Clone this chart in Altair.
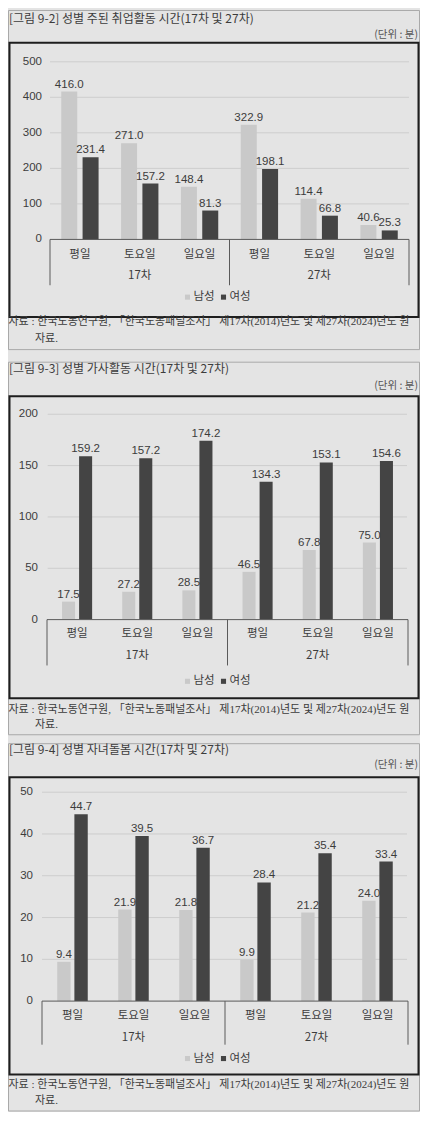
import altair as alt
import pandas as pd

# ---------------- data ----------------
waves = ["17차", "27차"]
days = ["평일", "토요일", "일요일"]
sexes = ["남성", "여성"]

work_male = [416.0, 271.0, 148.4, 322.9, 114.4, 40.6]
work_female = [231.4, 157.2, 81.3, 198.1, 66.8, 25.3]
house_male = [17.5, 27.2, 28.5, 46.5, 67.8, 75.0]
house_female = [159.2, 157.2, 174.2, 134.3, 153.1, 154.6]
care_male = [9.4, 21.9, 21.8, 9.9, 21.2, 24.0]
care_female = [44.7, 39.5, 36.7, 28.4, 35.4, 33.4]

titles = [
    "[그림 9-2] 성별 주된 취업활동 시간(17차 및 27차)",
    "[그림 9-3] 성별 가사활동 시간(17차 및 27차)",
    "[그림 9-4] 성별 자녀돌봄 시간(17차 및 27차)",
]
unit_label = "(단위 : 분)"
source_line1 = "자료 : 한국노동연구원, 「한국노동패널조사」 제17차(2014)년도 및 제27차(2024)년도 원"
source_line2 = "자료."
ticks_work = [0, 100, 200, 300, 400, 500]
ticks_house = [0, 50, 100, 150, 200]
ticks_care = [0, 10, 20, 30, 40, 50]

# ---------------- style ----------------
BG = "#e4e4e4"
MALE = "#c9c9c9"
FEMALE = "#444444"
GRID = "#cdcdcd"
AXIS = "#5a5a5a"
TXT = "#3c3c3c"
NUMF = "Liberation Sans, Noto Sans CJK KR"
KRF = "Noto Sans CJK KR"
SERIF = "Liberation Serif, Noto Sans CJK KR"
W = 412
TOTAL_H = 1104
TOP_PAD = 2
K = (TOTAL_H - TOP_PAD) / 1113.0   # page -> svg vertical factor


def py(page_y):
    return TOP_PAD + (page_y - 5) * K


def px(page_x):
    return min(max(page_x - 8, 0.5), W - 0.5)


layouts = [
    dict(box_top=5.5, box_bottom=348, title_y=14, unit_y=30,
         panel=(38, 315), y0=236.7, ytop=57.3, ymax=500, x0=50, x1=409,
         gx=(50, 409), tick_rx=42, pi=0.376, po=0.188, pi2=0.25,
         cat_y=252, grp_y=274, sep_bottom=283, legend_y=295, src1=320, src2=337),
    dict(box_top=360.7, box_bottom=737, title_y=367.5, unit_y=385,
         panel=(395, 700), y0=620.7, ytop=413.3, ymax=200, x0=47, x1=408,
         gx=(47.7, 407), tick_rx=38, pi=0.5, po=0.25, pi2=0.235,
         cat_y=635, grp_y=657, sep_bottom=667, legend_y=683, src1=712, src2=727),
    dict(box_top=746, box_bottom=1117, title_y=752.5, unit_y=768,
         panel=(780, 1080), y0=1006, ytop=795, ymax=50, x0=42, x1=408,
         gx=(42, 407), tick_rx=33, pi=0.5, po=0.25, pi2=0.22,
         cat_y=1021, grp_y=1043, sep_bottom=1050, legend_y=1064, src1=1091, src2=1107),
]

one = pd.DataFrame({"a": [0]})


def figure(title, male, female, ticks, L):
    keys = [f"{w}|{d}" for w in waves for d in days]
    rows = []
    for j, k in enumerate(keys):
        rows.append(dict(key=k, sex=sexes[0], value=male[j]))
        rows.append(dict(key=k, sex=sexes[1], value=female[j]))
    df = pd.DataFrame(rows)

    yscale = alt.Scale(domain=[0, L["ymax"]], range=[py(L["y0"]), py(L["ytop"])], nice=False)
    xscale = alt.Scale(domain=keys, range=[px(L["x0"]), px(L["x1"])],
                       paddingInner=L["pi"], paddingOuter=L["po"])
    xoff = alt.Scale(domain=sexes, paddingInner=L["pi2"], paddingOuter=0)
    cscale = alt.Scale(domain=sexes, range=[MALE, FEMALE])
    lscale = alt.Scale(type="point", domain=sexes, range=[px(187.5), px(223.5)], padding=0)

    X = alt.X("key:N", scale=xscale, axis=None)
    Y = alt.Y("value:Q", scale=yscale, axis=None)

    layers = []
    # outer thin box
    layers.append(alt.Chart(one).mark_rect(filled=False, stroke="#a9a9a9", strokeWidth=1).encode(
        x=alt.value(0.5), x2=alt.value(W - 0.5), y=alt.value(py(L["box_top"])), y2=alt.value(py(L["box_bottom"]))))
    # dark panel
    layers.append(alt.Chart(one).mark_rect(filled=False, stroke="#1e1e1e", strokeWidth=2).encode(
        x=alt.value(1.5), x2=alt.value(W - 1.5), y=alt.value(py(L["panel"][0])), y2=alt.value(py(L["panel"][1]))))
    # title and unit
    layers.append(alt.Chart(one).mark_text(text=title, align="left", baseline="middle", font=KRF,
                                           fontSize=12, color=TXT).encode(
        x=alt.value(1), y=alt.value(py(L["title_y"]))))
    layers.append(alt.Chart(one).mark_text(text=unit_label, align="right", baseline="middle", font=KRF,
                                           fontSize=10.5, color="#555555").encode(
        x=alt.value(W - 2), y=alt.value(py(L["unit_y"]))))
    # source
    layers.append(alt.Chart(one).mark_text(text=source_line1, align="left", baseline="middle", font=SERIF,
                                           fontSize=11, color=TXT).encode(
        x=alt.value(0.5), y=alt.value(py(L["src1"]))))
    layers.append(alt.Chart(one).mark_text(text=source_line2, align="left", baseline="middle", font=SERIF,
                                           fontSize=11, color=TXT).encode(
        x=alt.value(px(35)), y=alt.value(py(L["src2"]))))

    tdf = pd.DataFrame({"t": ticks})
    TY = alt.Y("t:Q", scale=yscale, axis=None)
    # gridlines
    layers.append(alt.Chart(tdf).transform_filter("datum.t > 0").mark_rule(color=GRID, strokeWidth=1).encode(
        y=TY, x=alt.value(px(L["gx"][0])), x2=alt.value(px(L["gx"][1]))))
    # tick labels
    layers.append(alt.Chart(tdf).mark_text(align="right", baseline="middle", font=NUMF, fontSize=11.5,
                                           color=TXT).encode(
        y=TY, x=alt.value(px(L["tick_rx"])), text=alt.Text("t:Q", format="d")))
    # bars
    layers.append(alt.Chart(df).mark_bar().encode(
        x=X, xOffset=alt.XOffset("sex:N", scale=xoff), y=Y,
        color=alt.Color("sex:N", scale=cscale, legend=None)))
    # value labels
    layers.append(alt.Chart(df).mark_text(baseline="alphabetic", dy=-4, font=NUMF, fontSize=11.5,
                                          color=TXT).encode(
        x=X, xOffset=alt.XOffset("sex:N", scale=xoff), y=Y,
        text=alt.Text("value:Q", format=".1f")))
    # axis baseline
    layers.append(alt.Chart(pd.DataFrame({"t": [0]})).mark_rule(color=AXIS, strokeWidth=1).encode(
        y=TY, x=alt.value(px(L["x0"])), x2=alt.value(px(L["x1"]))))
    # group separators
    for sx in (L["x0"], (L["x0"] + L["x1"]) / 2, L["x1"]):
        layers.append(alt.Chart(one).mark_rule(color=AXIS, strokeWidth=1).encode(
            x=alt.value(px(sx)), y=alt.value(py(L["y0"])), y2=alt.value(py(L["sep_bottom"]))))
    # category labels
    cdf = pd.DataFrame({"key": keys, "day": days * 2})
    layers.append(alt.Chart(cdf).mark_text(baseline="middle", font=KRF, fontSize=11.5, color=TXT).encode(
        x=X, y=alt.value(py(L["cat_y"])), text="day:N"))
    gdf = pd.DataFrame({"key": [keys[1], keys[4]], "wave": waves})
    layers.append(alt.Chart(gdf).mark_text(baseline="middle", font=KRF, fontSize=11.5, color=TXT).encode(
        x=X, y=alt.value(py(L["grp_y"])), text="wave:N"))
    # legend (symbols + labels)
    ldf = pd.DataFrame({"sex": sexes})
    LX = alt.X("sex:N", scale=lscale, axis=None)
    layers.append(alt.Chart(ldf).mark_square(size=26, opacity=1).encode(
        x=LX, y=alt.value(py(L["legend_y"])),
        color=alt.Color("sex:N", scale=cscale, legend=None)))
    layers.append(alt.Chart(ldf).mark_text(align="left", baseline="middle", dx=6, font=KRF, fontSize=11.5,
                                           color=TXT).encode(
        x=LX, y=alt.value(py(L["legend_y"])), text="sex:N"))

    return alt.layer(*layers).resolve_scale(x="independent")


f1 = figure(titles[0], work_male, work_female, ticks_work, layouts[0])
f2 = figure(titles[1], house_male, house_female, ticks_house, layouts[1])
f3 = figure(titles[2], care_male, care_female, ticks_care, layouts[2])

chart = alt.layer(f1, f2, f3).resolve_scale(
    x="independent", y="independent", xOffset="independent", color="independent"
).properties(
    width=W, height=TOTAL_H, padding=0, autosize=alt.AutoSizeParams(type="none")
).configure(
    background=BG
).configure_view(stroke=None)

chart.save("out.html", embed_options={"renderer": "svg", "actions": False})
